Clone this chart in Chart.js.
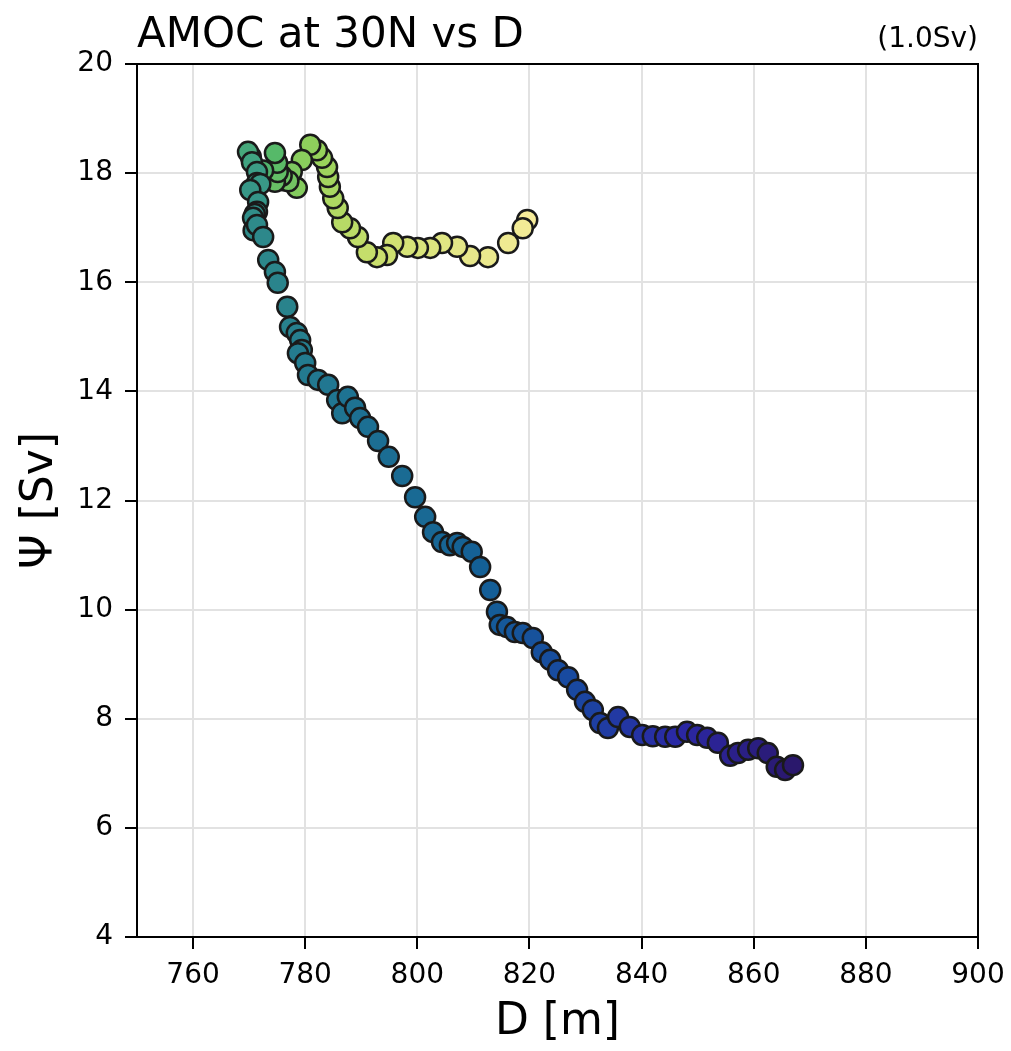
<!DOCTYPE html>
<html>
<head>
<meta charset="utf-8">
<script src="https://cdn.jsdelivr.net/npm/chart.js@4/dist/chart.umd.min.js"></script>
<style>
  html,body{margin:0;padding:0;background:#fff}
  #wrap{width:1011px;height:1051px;position:relative}
</style>
</head>
<body>
<div id="wrap"><canvas id="c"></canvas></div>
<script>
// --- data (in plotting order) ---
const dVals = [819.6,818.8,816.2,812.6,809.4,807.1,804.4,802.3,800.1,798.2,
  795.7,794.6,792.8,791.0,789.4,788.0,786.6,785.8,785.0,784.4,
  784.1,783.9,783.0,782.1,780.9,779.4,778.5,777.6,776.0,777.0,775.8,774.6,
  775.1,775.0,774.6,772.5,770.3,769.8,770.5,771.4,771.4,772.0,770.2,771.6,771.4,771.0,
  770.7,770.8,771.4,772.5,773.4,774.6,775.1,776.8,777.3,778.5,779.1,
  779.4,778.7,780.0,780.5,782.3,784.1,785.7,786.6,787.6,788.9,
  789.8,791.2,793.0,794.9,797.3,799.6,801.4,802.8,804.4,805.8,
  807.1,808.1,809.7,811.2,813.0,814.2,814.7,816.0,817.4,818.8,
  820.6,822.2,823.7,825.1,826.9,828.5,829.9,831.3,832.6,834.0,
  835.8,837.9,840.1,842.0,844.2,846.0,848.1,849.9,851.7,853.6,
  855.8,857.2,859.0,860.8,862.5,864.1,865.6,867.0];
const psiVals = [17.14,16.99,16.72,16.46,16.48,16.65,16.72,16.63,16.63,16.65,
  16.72,16.50,16.46,16.55,16.83,16.99,17.10,17.36,17.54,17.75,
  17.93,18.11,18.28,18.42,18.52,18.24,17.73,18.02,17.87,17.85,17.95,17.84,
  18.02,18.19,18.37,18.05,18.30,18.39,18.20,18.02,17.82,17.80,17.69,17.47,17.29,17.25,
  17.18,16.95,17.05,16.83,16.41,16.19,15.99,15.55,15.18,15.07,14.94,
  14.76,14.70,14.52,14.30,14.21,14.12,13.84,13.60,13.90,13.70,
  13.51,13.35,13.09,12.80,12.45,12.06,11.70,11.42,11.24,11.18,
  11.22,11.15,11.06,10.78,10.36,9.96,9.72,9.68,9.59,9.57,
  9.48,9.22,9.08,8.89,8.76,8.53,8.31,8.16,7.92,7.83,
  8.03,7.85,7.70,7.68,7.67,7.67,7.76,7.70,7.65,7.56,
  7.32,7.37,7.43,7.46,7.37,7.12,7.06,7.15];
const xTicks = [760,780,800,820,840,860,880,900];
const yTicks = [4,6,8,10,12,14,16,18,20];

// haline-like colormap (dark blue -> teal -> green -> pale yellow)
const cmapStops = [
  [0.0,[42,24,108]],[0.1,[43,40,165]],[0.2,[24,74,160]],[0.3,[20,96,150]],
  [0.45,[32,118,145]],[0.58,[46,138,138]],[0.66,[60,158,134]],[0.7,[85,185,105]],
  [0.8,[150,210,90]],[0.9,[205,224,110]],[1.0,[246,236,154]]];
function cmap(t){
  for(let i=1;i<cmapStops.length;i++){
    if(t<=cmapStops[i][0]){
      let a=cmapStops[i-1],b=cmapStops[i],f=(t-a[0])/(b[0]-a[0]);
      let c=a[1].map((v,k)=>Math.round(v+(b[1][k]-v)*f));
      return `rgb(${c[0]},${c[1]},${c[2]})`;
    }
  }
  let c=cmapStops[cmapStops.length-1][1];return `rgb(${c[0]},${c[1]},${c[2]})`;
}
const n=dVals.length;
const pts=dVals.map((d,i)=>({x:d,y:psiVals[i]}));
const cols=dVals.map((d,i)=>cmap(1-i/(n-1)));

const FONT='"DejaVu Sans", sans-serif';

const frame={
  id:'frame',
  afterDraw(chart){
    const {ctx,chartArea:a}=chart;
    ctx.save();
    ctx.strokeStyle='#000';ctx.lineWidth=2;
    ctx.strokeRect(a.left,a.top,a.right-a.left,a.bottom-a.top);
    ctx.fillStyle='#000';
    ctx.textBaseline='alphabetic';
    ctx.font='42px '+FONT;ctx.textAlign='left';
    ctx.fillText('AMOC at 30N vs D',a.left,47);
    ctx.font='28px '+FONT;ctx.textAlign='right';
    ctx.fillText('(1.0Sv)',a.right,47);
    ctx.restore();
  }
};

new Chart(document.getElementById('c'),{
  type:'scatter',
  data:{datasets:[{data:pts,pointBackgroundColor:cols,pointBorderColor:'#1a1a1a',
    pointBorderWidth:2.5,pointRadius:10,pointHoverRadius:10}]},
  options:{
    responsive:true,maintainAspectRatio:false,animation:false,
    layout:{padding:{top:64,right:33,left:0,bottom:0}},
    plugins:{legend:{display:false},tooltip:{enabled:false}},
    scales:{
      x:{type:'linear',min:750,max:900,
        afterBuildTicks:s=>{s.ticks=xTicks.map(v=>({value:v}));},
        afterFit:s=>{s.height=114;s.paddingRight=0;s.paddingLeft=0;},
        grid:{color:'#e2e2e2',lineWidth:2,tickColor:'#000',tickWidth:2,tickLength:12},
        border:{color:'#000',width:2},
        ticks:{font:{family:FONT,size:28},color:'#000',padding:10,maxRotation:0},
        title:{display:true,text:'D [m]',font:{family:FONT,size:44,lineHeight:1.2},color:'#000',padding:{top:0,bottom:2}}
      },
      y:{type:'linear',min:4,max:20,
        afterBuildTicks:s=>{s.ticks=yTicks.map(v=>({value:v}));},
        afterFit:s=>{s.width=137;s.paddingTop=0;s.paddingBottom=0;},
        grid:{color:'#e2e2e2',lineWidth:2,tickColor:'#000',tickWidth:2,tickLength:12},
        border:{color:'#000',width:2},
        ticks:{font:{family:FONT,size:28},color:'#000',padding:12},
        title:{display:true,text:'Ψ [Sv]',font:{family:FONT,size:44,lineHeight:1.2},color:'#000',padding:{top:14,bottom:0}}
      }
    }
  },
  plugins:[frame]
});
</script>
</body>
</html>
